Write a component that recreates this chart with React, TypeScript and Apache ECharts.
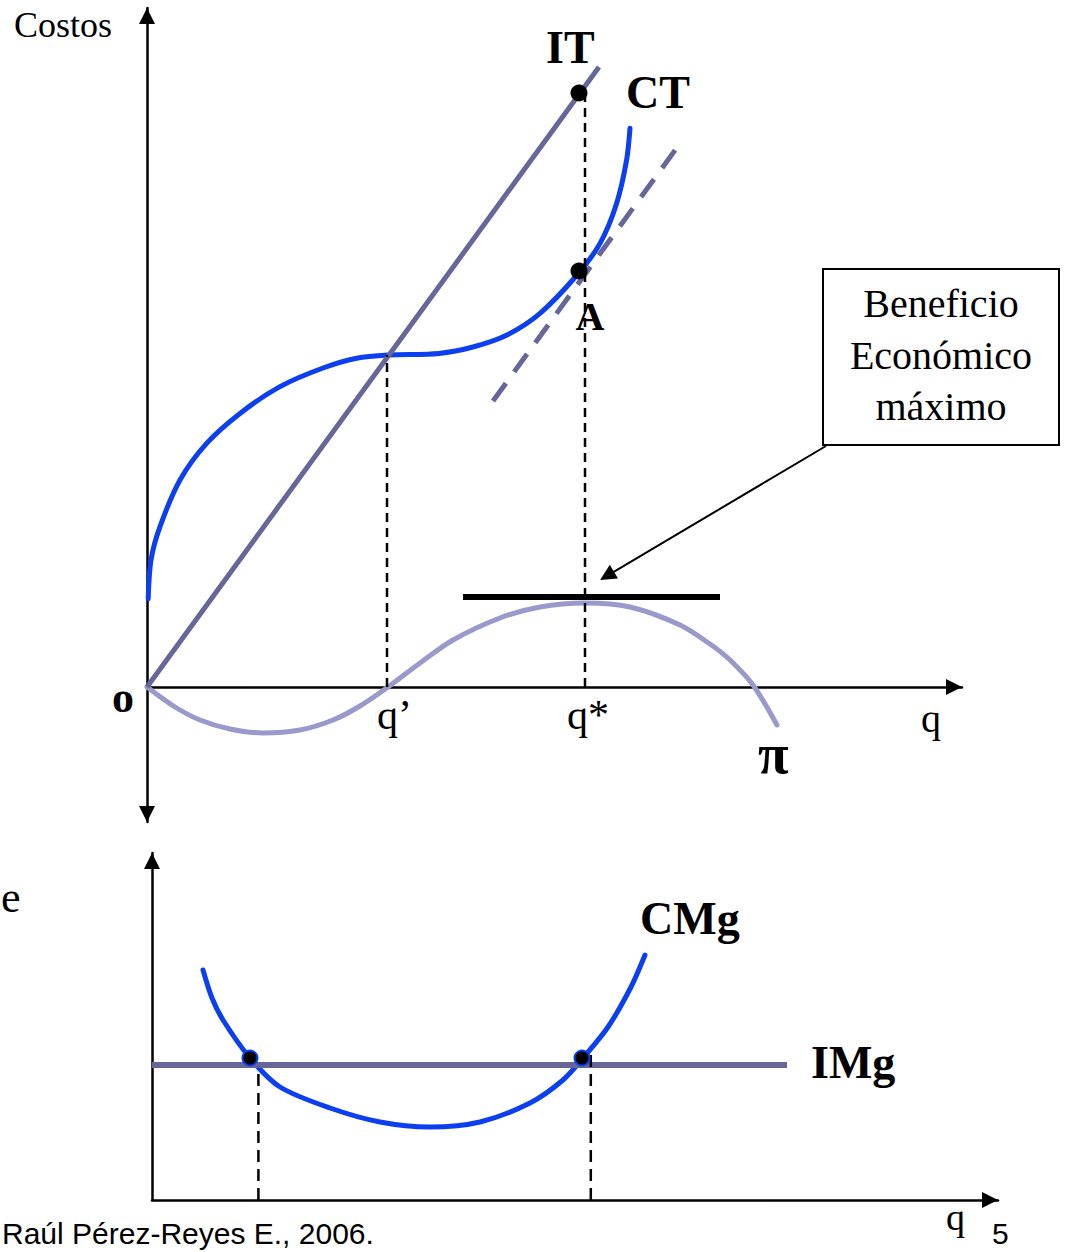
import React, { useEffect, useRef } from "react";
import * as echarts from "echarts";

// ---- Upper panel: ingreso total, costo total y beneficio (q vs. costos) ----
const itLine = [[0, 0], [11.3, 15.5]];
const ctCurve = [
  [0.03, 2.2], [0.1, 3.175], [0.325, 4.01], [0.825, 5.175], [1.49, 6.09],
  [2.325, 6.84], [3.325, 7.51], [4.4, 7.975], [5.24, 8.22], [6.03, 8.3],
  [7.3, 8.34], [8.15, 8.5], [9.0, 8.8], [9.825, 9.34], [10.75, 10.3],
  [11.325, 11.09], [11.74, 12.09], [11.99, 13.175], [12.075, 13.97],
];
const tangentLine = [[8.65, 7.15], [13.35, 13.625]];
const profitCurve = [
  [0, 0], [0.7, -0.5], [1.325, -0.825], [2.075, -1.05], [2.9, -1.15],
  [3.825, -1.075], [4.65, -0.825], [5.325, -0.475], [6.025, 0], [6.825, 0.6],
  [7.65, 1.175], [8.825, 1.725], [9.825, 2.0], [10.95, 2.1], [12.075, 2.0],
  [13.325, 1.55], [14.075, 1.075], [14.575, 0.675], [15.15, 0.05], [15.75, -0.95],
];
const qPrime = 6.0;
const qStar = 10.95;
const ctAtQPrime = 8.3;
const itAtQStar = 14.75;
const qPrimeGuide = [[qPrime, 0], [qPrime, ctAtQPrime]];
const qStarGuide = [[qStar, 0], [qStar, itAtQStar]];
const maxProfitBar = [[7.9, 2.25], [14.325, 2.25]];
const upperDots = [[10.8, 14.85], [10.8, 10.4]];
const pointerFrom = [16.975, 6.025];
const pointerTo = [11.5, 2.78];

// ---- Lower panel: ingreso marginal y costo marginal ----
const imgLine = [[0, 3.375], [15.875, 3.375]];
const cmgCurve = [
  [1.275, 5.75], [1.5, 5.05], [1.775, 4.5], [2.45, 3.55], [3.2, 2.825], [4.45, 2.3],
  [5.7, 1.95], [6.95, 1.825], [8.2, 1.95], [9.45, 2.425], [10.275, 3.0],
  [10.775, 3.55], [11.4, 4.325], [11.975, 5.325], [12.325, 6.125],
];
const lowerDots = [[2.45, 3.55], [10.75, 3.55]];
const leftGuide = [[2.66, 0], [2.66, 3.33]];
const rightGuide = [[10.97, 0], [10.97, 3.7]];

const BLUE = "#0b3ff0";
const SLATE = "#666699";
const LILAC = "#9999cc";
const SERIF = '"Liberation Serif", "Times New Roman", serif';
const SANS = '"Liberation Sans", Arial, sans-serif';

function axisPair(grid: number, xMax: number, yMin: number, yMax: number, yArrows: string[]) {
  const common = {
    type: "value",
    gridIndex: grid,
    axisTick: { show: false },
    axisLabel: { show: false },
    splitLine: { show: false },
  };
  return {
    x: {
      ...common,
      min: 0,
      max: xMax,
      axisLine: {
        show: true,
        onZero: true,
        symbol: ["none", "triangle"],
        symbolSize: [16, 16],
        symbolOffset: [0, -8],
        lineStyle: { color: "#000", width: 2.5 },
      },
    },
    y: {
      ...common,
      min: yMin,
      max: yMax,
      axisLine: {
        show: true,
        onZero: false,
        symbol: yArrows,
        symbolSize: [16, 16],
        symbolOffset: [8, -8],
        lineStyle: { color: "#000", width: 2.5 },
      },
    },
  };
}

function lineSeries(
  grid: number,
  data: number[][],
  color: string,
  width: number,
  opts: { z?: number; smooth?: number; dash?: number[]; cap?: string } = {}
) {
  return {
    type: "line",
    xAxisIndex: grid,
    yAxisIndex: grid,
    data,
    symbol: "none",
    showSymbol: false,
    silent: true,
    z: opts.z ?? 3,
    smooth: opts.smooth ?? false,
    lineStyle: {
      color,
      width,
      cap: opts.cap ?? (opts.dash ? "butt" : "round"),
      type: opts.dash ?? "solid",
    },
  };
}

function dots(grid: number, data: number[][], border?: string) {
  return {
    type: "scatter",
    xAxisIndex: grid,
    yAxisIndex: grid,
    data,
    symbolSize: border ? 15 : 17,
    silent: true,
    z: 6,
    itemStyle: {
      color: "#000",
      opacity: 1,
      borderColor: border ?? "#000",
      borderWidth: border ? 2 : 0,
    },
  };
}

function label(text: string, x: number, y: number, size: number, opts: any = {}) {
  const family = opts.family || SERIF;
  const weight = opts.weight || "normal";
  const align = opts.align || "left";
  return {
    type: "text",
    x,
    y,
    z: 100,
    silent: true,
    style: {
      text,
      fill: "#000",
      fontSize: size,
      fontFamily: family,
      fontWeight: weight,
      textAlign: align,
      align,
      textVerticalAlign: "middle",
      verticalAlign: "middle",
    },
  };
}

export default function App() {
  const ref = useRef<HTMLDivElement>(null);

  useEffect(() => {
    if (!ref.current) return;
    document.body.style.margin = "0";
    const chart = echarts.init(ref.current, undefined, { renderer: "svg" });

    const upper = axisPair(0, 20.375, -3.375, 16.975, ["triangle", "triangle"]);
    const lower = axisPair(1, 21.15, 0, 8.675, ["none", "triangle"]);

    chart.setOption({
      animation: false,
      backgroundColor: "#ffffff",
      tooltip: { show: false },
      grid: [
        { left: 147, top: 8, width: 815, height: 814, containLabel: false },
        { left: 152, top: 853, width: 846, height: 347, containLabel: false },
      ],
      xAxis: [upper.x, lower.x],
      yAxis: [upper.y, lower.y],
      series: [
        // upper panel
        lineSeries(0, ctCurve, BLUE, 5, { smooth: 0.3 }),
        lineSeries(0, profitCurve, LILAC, 5, { smooth: 0.3 }),
        lineSeries(0, tangentLine, SLATE, 5, { dash: [22, 14] }),
        lineSeries(0, itLine, SLATE, 5, { z: 4, cap: "butt" }),
        lineSeries(0, qPrimeGuide, "#000", 2.5, { z: 5, dash: [9, 6] }),
        lineSeries(0, qStarGuide, "#000", 2.5, { z: 5, dash: [9, 6] }),
        {
          ...lineSeries(0, maxProfitBar, "#000", 6, { z: 5, cap: "butt" }),
          markLine: {
            silent: true,
            symbol: ["none", "triangle"],
            symbolSize: 16,
            label: { show: false },
            lineStyle: { color: "#000", width: 2, type: "solid" },
            data: [[{ coord: pointerFrom }, { coord: pointerTo }]],
          },
        },
        dots(0, upperDots),
        // lower panel
        lineSeries(1, cmgCurve, BLUE, 5, { smooth: 0.3 }),
        lineSeries(1, imgLine, SLATE, 6, { z: 4, cap: "butt" }),
        lineSeries(1, leftGuide, "#000", 2.5, { z: 5, dash: [12, 7] }),
        lineSeries(1, rightGuide, "#000", 2.5, { z: 5, dash: [12, 7] }),
        dots(1, lowerDots, BLUE),
      ],
      graphic: [
        label("Costos", 14, 25, 36),
        label("IT", 546, 47, 46, { weight: "bold" }),
        label("CT", 626, 92, 46, { weight: "bold" }),
        label("A", 590, 316, 40, { weight: "bold", align: "center" }),
        label("o", 112, 697, 44, { weight: "bold" }),
        label("q\u2019", 377, 715, 42),
        label("q*", 567, 715, 42),
        label("q", 921, 718, 40),
        label("\u03c0", 758, 754, 56, { weight: "bold" }),
        {
          type: "rect",
          z: 90,
          silent: true,
          shape: { x: 823, y: 269, width: 236, height: 176 },
          style: { fill: "#fff", stroke: "#000", lineWidth: 2 },
        },
        label("Beneficio", 941, 303, 40, { align: "center" }),
        label("Econ\u00f3mico", 941, 355, 40, { align: "center" }),
        label("m\u00e1ximo", 941, 406, 40, { align: "center" }),
        label("e", 1, 897, 44),
        label("CMg", 640, 918, 46, { weight: "bold" }),
        label("IMg", 811, 1062, 46, { weight: "bold" }),
        label("q", 946, 1217, 38),
        label("5", 992, 1233, 30, { family: SANS }),
        label("Ra\u00fal P\u00e9rez-Reyes E., 2006.", 2, 1233, 30, { family: SANS }),
      ],
    });

    return () => chart.dispose();
  }, []);

  return <div ref={ref} style={{ width: 1065, height: 1252, background: "#fff" }} />;
}
